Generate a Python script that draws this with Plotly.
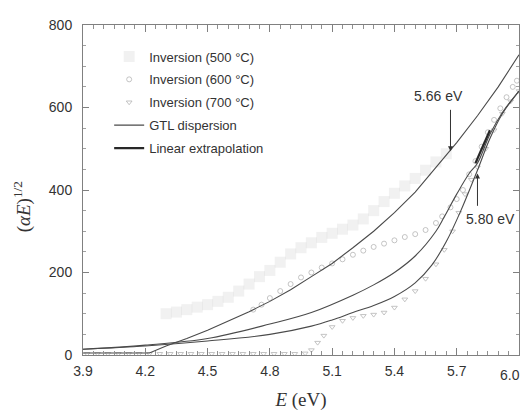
import plotly.graph_objects as go

# ---- data ----
E_500 = [4.30, 4.35, 4.40, 4.45, 4.50, 4.55, 4.60, 4.65, 4.70, 4.75, 4.80, 4.85, 4.90, 4.95,
         5.00, 5.05, 5.10, 5.15, 5.20, 5.25, 5.30, 5.35, 5.40, 5.45, 5.50, 5.55, 5.60, 5.65]
V_500 = [100, 104, 110, 116, 122, 130, 140, 155, 172, 190, 205, 225, 245, 260,
         272, 285, 295, 305, 315, 330, 350, 372, 392, 410, 428, 448, 468, 488]

E_600 = [4.72, 4.76, 4.80, 4.85, 4.90, 4.95, 5.00, 5.05, 5.10, 5.15, 5.20, 5.25, 5.30, 5.35,
         5.40, 5.45, 5.50, 5.55, 5.60, 5.63, 5.67, 5.70, 5.73, 5.76, 5.79, 5.82, 5.85, 5.88,
         5.91, 5.94, 5.97, 5.99]
V_600 = [110, 122, 138, 155, 172, 188, 200, 212, 222, 232, 243, 253, 262, 270,
         278, 286, 293, 303, 320, 336, 358, 378, 400, 438, 470, 505, 540, 570,
         598, 625, 650, 665]

E_700 = [3.92, 3.97, 4.02, 4.07, 4.12, 4.17, 4.22, 4.27, 4.32, 4.37, 4.42, 4.47, 4.52, 4.57,
         4.62, 4.67, 4.72, 4.77, 4.82, 4.87, 4.92, 4.97, 5.00, 5.03, 5.06, 5.10, 5.15, 5.20,
         5.25, 5.30, 5.35, 5.40, 5.45, 5.50, 5.55, 5.60, 5.64, 5.68, 5.71, 5.74, 5.77, 5.80,
         5.84, 5.88, 5.92, 5.96, 6.00]
V_700 = [3, 3, 3, 3, 3, 3, 3, 3, 3, 3, 3, 3, 3, 3,
         3, 3, 3, 3, 3, 3, 3, 4, 12, 30, 47, 68, 83, 90,
         95, 98, 103, 115, 135, 155, 185, 220, 255, 300, 345, 390, 425, 455,
         500, 545, 585, 615, 640]

E_gtl_500 = [3.90, 4.00, 4.10, 4.22, 4.30, 4.40, 4.50, 4.60, 4.70, 4.80, 4.90, 5.00, 5.10,
             5.20, 5.30, 5.40, 5.50, 5.60, 5.70, 5.80, 5.90, 6.00]
V_gtl_500 = [5, 5, 5, 5, 22, 40, 60, 82, 105, 130, 158, 190, 222,
             260, 300, 345, 395, 455, 515, 580, 650, 728]

E_gtl_600 = [3.90, 4.20, 4.50, 4.80, 5.00, 5.20, 5.30, 5.40, 5.50, 5.60, 5.64, 5.70, 5.76,
             5.80, 5.86, 5.92, 6.00]
V_gtl_600 = [14, 24, 40, 75, 103, 145, 170, 200, 240, 300, 335, 390, 440,
             465, 535, 588, 640]

E_gtl_700 = [3.90, 4.20, 4.50, 4.80, 5.00, 5.10, 5.20, 5.30, 5.40, 5.50, 5.58, 5.65, 5.72,
             5.80, 5.86, 5.92, 6.00]
V_gtl_700 = [14, 22, 34, 50, 70, 85, 103, 120, 142, 175, 218, 275, 350,
             448, 525, 585, 640]

E_lin = [5.79, 5.86]
V_lin = [465, 545]

x_ticks = [3.9, 4.2, 4.5, 4.8, 5.1, 5.4, 5.7, 6.0]
x_tick_text = ["3.9", "4.2", "4.5", "4.8", "5.1", "5.4", "5.7", ""]
last_x_label = "6.0"
y_ticks = [0, 200, 400, 600, 800]

SANS = "Liberation Sans, Arial, sans-serif"
SERIF = "Liberation Serif, Times New Roman, serif"
LINE = "#4a4a4a"
TXT = "#333"

fig = go.Figure()

fig.add_trace(go.Scatter(x=E_500, y=V_500, mode="markers", name="Inversion (500 °C)",
                         legendgroup="a",
                         marker=dict(symbol="square", size=11, color="rgba(170,170,170,0.17)",
                                     line=dict(width=0))))
fig.add_trace(go.Scatter(x=E_600, y=V_600, mode="markers", name="Inversion (600 °C)",
                         legendgroup="b",
                         marker=dict(symbol="circle-open", size=5, color="#b5b5b5",
                                     line=dict(width=0.8))))
fig.add_trace(go.Scatter(x=E_700, y=V_700, mode="markers", name="Inversion (700 °C)",
                         legendgroup="c",
                         marker=dict(symbol="triangle-down-open", size=5, color="#b5b5b5",
                                     line=dict(width=0.8))))
fig.add_trace(go.Scatter(x=E_gtl_500, y=V_gtl_500, mode="lines", name="GTL dispersion",
                         legendgroup="d", line=dict(color=LINE, width=1.1)))
fig.add_trace(go.Scatter(x=E_gtl_600, y=V_gtl_600, mode="lines", showlegend=False,
                         legendgroup="d", line=dict(color=LINE, width=1.1, shape="spline")))
fig.add_trace(go.Scatter(x=E_gtl_700, y=V_gtl_700, mode="lines", showlegend=False,
                         legendgroup="d", line=dict(color=LINE, width=1.1, shape="spline")))
fig.add_trace(go.Scatter(x=E_lin, y=V_lin, mode="lines", name="Linear extrapolation",
                         legendgroup="e", line=dict(color="#282828", width=2.2)))

# arrows and labels
fig.add_annotation(x=5.67, y=494, ax=5.67, ay=598, xref="x", yref="y", axref="x", ayref="y",
                   showarrow=True, arrowhead=2, arrowsize=1, arrowwidth=1, arrowcolor=TXT,
                   text="")
fig.add_annotation(x=5.61, y=627, xref="x", yref="y", text="5.66 eV", showarrow=False,
                   font=dict(family=SANS, size=14, color=TXT))
fig.add_annotation(x=5.80, y=440, ax=5.80, ay=358, xref="x", yref="y", axref="x", ayref="y",
                   showarrow=True, arrowhead=2, arrowsize=1, arrowwidth=1, arrowcolor=TXT,
                   text="")
fig.add_annotation(x=5.865, y=330, xref="x", yref="y", text="5.80 eV", showarrow=False,
                   font=dict(family=SANS, size=14, color=TXT))
# last x tick label (sits slightly left of its tick in the reference)
fig.add_annotation(x=x_ticks[-1], y=0, xref="x", yref="paper", yanchor="top", xanchor="center",
                   text=last_x_label, showarrow=False, xshift=-9, yshift=-10,
                   font=dict(family=SANS, size=14, color=TXT))
# y axis title
fig.add_annotation(x=-0.138, y=0.45, xref="paper", yref="paper", textangle=-90,
                   xanchor="center", yanchor="middle",
                   text="(<i>αE</i>)<sup>1/2</sup>", showarrow=False,
                   font=dict(family=SERIF, size=19, color=TXT))

axis_common = dict(showline=True, linecolor="#808080", linewidth=1, mirror="ticks",
                   ticks="inside", tickcolor="#808080", showgrid=False, zeroline=False,
                   tickfont=dict(family=SANS, size=14, color=TXT))

fig.update_xaxes(range=[3.9, 6.0], tickvals=x_ticks, ticktext=x_tick_text, ticklen=7,
                 ticklabelstandoff=3,
                 minor=dict(dtick=0.05, tick0=3.9, ticks="inside", ticklen=4,
                            tickcolor="#909090", showgrid=False),
                 title=dict(text="<i>E</i> (eV)", font=dict(family=SERIF, size=19, color=TXT),
                            standoff=14),
                 **axis_common)
fig.update_yaxes(range=[0, 800], tickvals=y_ticks, ticklen=6, ticklabelstandoff=7,
                 minor=dict(dtick=50, tick0=0, ticks="inside", ticklen=3,
                            tickcolor="#a0a0a0", showgrid=False),
                 **axis_common)

# page body has an 8px margin, so the figure is made 8px smaller and margins reduced
fig.update_layout(
    width=522, height=407,
    margin=dict(l=75, r=11, t=9, b=60),
    paper_bgcolor="white", plot_bgcolor="white",
    showlegend=True,
    legend=dict(x=0.06, y=0.95, xanchor="left", yanchor="top",
                bgcolor="rgba(0,0,0,0)", tracegroupgap=3,
                font=dict(family=SANS, size=13, color=TXT)),
)

fig.write_html("out.html")
